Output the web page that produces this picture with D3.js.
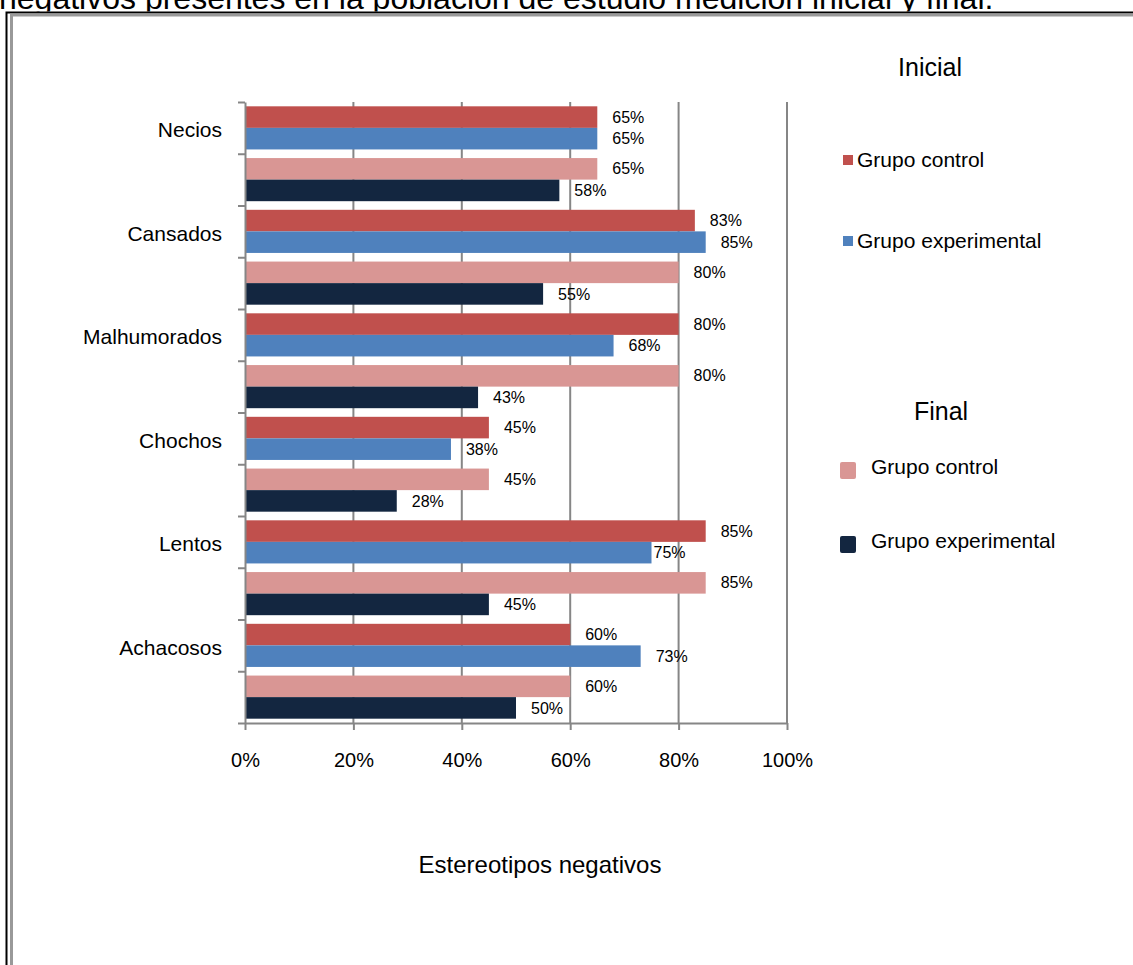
<!DOCTYPE html>
<html lang="es">
<head>
<meta charset="utf-8">
<script src="https://cdn.jsdelivr.net/npm/d3@7"></script>
<style>
  html, body { margin: 0; padding: 0; background: #fff; }
  svg { display: block; font-family: Arial, "Liberation Sans", sans-serif; }
</style>
</head>
<body>
<svg id="chart" width="1133" height="965"></svg>
<script>
// Estereotipos negativos: porcentaje por grupo, medición inicial y final
const categories = ["Necios", "Cansados", "Malhumorados", "Chochos", "Lentos", "Achacosos"];
const inicialControl = [65, 83, 80, 45, 85, 60];
const inicialExperimental = [65, 85, 68, 38, 75, 73];
const finalControl = [65, 80, 80, 45, 85, 60];
const finalExperimental = [58, 55, 43, 28, 45, 50];
const xTickValues = [0, 20, 40, 60, 80, 100];
const phases = ["Inicial", "Final"];
const groups = ["Grupo control", "Grupo experimental"];

const colors = {
  "Inicial|Grupo control": "#C0504D",
  "Inicial|Grupo experimental": "#4F81BD",
  "Final|Grupo control": "#D99694",
  "Final|Grupo experimental": "#132640"
};

const seriesByKey = {
  "Inicial|Grupo control": inicialControl,
  "Inicial|Grupo experimental": inicialExperimental,
  "Final|Grupo control": finalControl,
  "Final|Grupo experimental": finalExperimental
};

// Hand-placed label offsets (pixels) for labels moved off the default spot
const labelNudge = { "Lentos|Inicial|Grupo experimental": -13 };

const svg = d3.select("#chart");
const axisGray = "#868686";

// Heading line of the page above the chart box (partly cut by the top edge)
svg.append("text")
  .attr("x", -1).attr("y", 9)
  .attr("font-size", 32).attr("fill", "#000")
  .text("negativos presentes en la población de estudio medición inicial y final.");

// Chart box: black outer frame with grey inner edge
svg.append("rect").attr("x", 0).attr("y", 11.5).attr("width", 1133).attr("height", 960).attr("fill", "#fff");
svg.append("path").attr("d", "M6.5,965 V12.5 H1133")
  .attr("fill", "none").attr("stroke", "#000").attr("stroke-width", 2);
svg.append("path").attr("d", "M11.5,965 V15 H1133")
  .attr("fill", "none").attr("stroke", "#999").attr("stroke-width", 3);

// Scales
const plot = { left: 245, right: 787, top: 102, bottom: 723 };
const x = d3.scaleLinear().domain([0, 100]).range([plot.left, plot.right]);

const rows = [];
categories.forEach(c => phases.forEach(p => rows.push(c + "|" + p)));
const yRow = d3.scaleBand().domain(rows).range([plot.top, plot.bottom]).padding(0);
const yGroup = d3.scaleBand().domain(groups).range([0, yRow.bandwidth()])
  .paddingInner(0).paddingOuter(0.2);
const yTickScale = d3.scaleLinear().domain([0, rows.length]).range([plot.top, plot.bottom]);

// Vertical gridlines
svg.append("g").selectAll("line")
  .data(xTickValues.filter(v => v > 0))
  .join("line")
  .attr("x1", d => x(d)).attr("x2", d => x(d))
  .attr("y1", plot.top).attr("y2", plot.bottom)
  .attr("stroke", axisGray).attr("stroke-width", 2);

// Bars
const barData = [];
categories.forEach((c, i) => {
  phases.forEach(p => {
    groups.forEach(g => {
      const key = p + "|" + g;
      barData.push({ cat: c, phase: p, group: g, value: seriesByKey[key][i], color: colors[key] });
    });
  });
});

const barY = d => yRow(d.cat + "|" + d.phase) + yGroup(d.group);

svg.append("g").selectAll("rect")
  .data(barData)
  .join("rect")
  .attr("x", x(0))
  .attr("y", barY)
  .attr("width", d => x(d.value) - x(0))
  .attr("height", yGroup.bandwidth())
  .attr("fill", d => d.color);

// Value labels at the outside end of each bar
svg.append("g").selectAll("text")
  .data(barData)
  .join("text")
  .attr("x", d => x(d.value) + 15 + (labelNudge[d.cat + "|" + d.phase + "|" + d.group] || 0))
  .attr("y", d => barY(d) + yGroup.bandwidth() / 2)
  .attr("dy", "0.35em")
  .attr("font-size", 16)
  .attr("fill", "#000")
  .text(d => d.value + "%");

// Category axis (ticks at every row boundary)
const yAxis = svg.append("g")
  .attr("transform", `translate(${plot.left},0)`)
  .call(d3.axisLeft(yTickScale).tickValues(d3.range(rows.length + 1))
    .tickSize(7).tickSizeOuter(0).tickFormat(""));
yAxis.selectAll("path, line").attr("stroke", axisGray).attr("stroke-width", 2);

svg.append("g").selectAll("text")
  .data(categories)
  .join("text")
  .attr("x", 222)
  .attr("y", c => yRow(c + "|Inicial") + yRow.bandwidth() / 2 + 2)
  .attr("dy", "0.35em")
  .attr("text-anchor", "end")
  .attr("font-size", 21)
  .attr("fill", "#000")
  .text(c => c);

// Value axis
const xAxis = svg.append("g")
  .attr("transform", `translate(0,${plot.bottom})`)
  .call(d3.axisBottom(x).tickValues(xTickValues).tickSize(7).tickSizeOuter(0)
    .tickPadding(23).tickFormat(d => d + "%"));
xAxis.selectAll("path, line").attr("stroke", axisGray).attr("stroke-width", 2);
xAxis.selectAll("text").attr("font-size", 20).attr("fill", "#000")
  .attr("font-family", "Arial, 'Liberation Sans', sans-serif");

svg.append("text")
  .attr("x", 540).attr("y", 873)
  .attr("text-anchor", "middle")
  .attr("font-size", 24).attr("fill", "#000")
  .text("Estereotipos negativos");

// Legends
svg.append("text").attr("x", 930).attr("y", 76).attr("text-anchor", "middle")
  .attr("font-size", 25).text("Inicial");
svg.append("text").attr("x", 941).attr("y", 420).attr("text-anchor", "middle")
  .attr("font-size", 25).text("Final");

const legendInicial = [
  { label: groups[0], color: colors["Inicial|Grupo control"], y: 160 },
  { label: groups[1], color: colors["Inicial|Grupo experimental"], y: 241 }
];
const li = svg.append("g").selectAll("g").data(legendInicial).join("g");
li.append("rect").attr("x", 843).attr("y", d => d.y - 5).attr("width", 10).attr("height", 10)
  .attr("fill", d => d.color);
li.append("text").attr("x", 857).attr("y", d => d.y).attr("dy", "0.35em")
  .attr("font-size", 21).text(d => d.label);

const legendFinal = [
  { label: groups[0], color: colors["Final|Grupo control"], y: 467 },
  { label: groups[1], color: colors["Final|Grupo experimental"], y: 541 }
];
const lf = svg.append("g").selectAll("g").data(legendFinal).join("g");
lf.append("rect").attr("x", 840).attr("y", d => d.y - 5).attr("width", 16).attr("height", 17)
  .attr("rx", 2).attr("fill", d => d.color);
lf.append("text").attr("x", 871).attr("y", d => d.y).attr("dy", "0.35em")
  .attr("font-size", 21).text(d => d.label);
</script>
</body>
</html>
